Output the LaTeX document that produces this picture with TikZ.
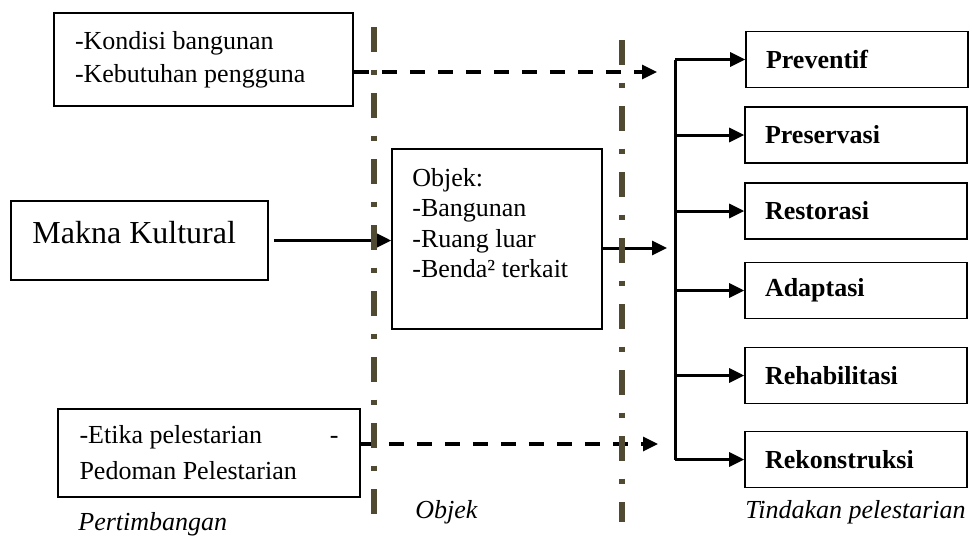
\documentclass[tikz,border=0pt]{standalone}
\usepackage{fontspec}
\setmainfont{Liberation Serif}
\usetikzlibrary{arrows.meta,calc}
\definecolor{axisolive}{RGB}{80,74,50}
\begin{document}
\begin{tikzpicture}[x=0.5pt,y=-0.5pt,
  box/.style={draw, line width=0.8pt, inner ysep=0pt, align=flush left},
  tbox/.style={box, minimum width=111pt, minimum height=28pt, inner xsep=10pt,
    text width=91pt, font=\fontsize{13}{16}\selectfont\bfseries},
  arr/.style={line width=1.5pt, -{Triangle[length=7.5pt,width=7pt]}},
  darr/.style={line width=1.6pt, dash pattern=on 7.5pt off 6.5pt, -{Triangle[length=7.5pt,width=7pt]}},
  axis/.style={draw=axisolive, line width=3pt, dash pattern=on 12.5pt off 8.75pt on 2.5pt off 9.25pt},
  lbl/.style={font=\fontsize{13}{16}\selectfont\itshape, inner sep=0pt}
]
\useasboundingbox (0,0) rectangle (972,536);

% left boxes
\node[box, minimum width=149.5pt, minimum height=46.5pt, inner xsep=10.5pt, text width=128.5pt,
  font=\fontsize{13}{16.5}\selectfont] (cond) at (203.5,59.5)
  {-Kondisi bangunan\\-Kebutuhan pengguna};
\node[box, minimum width=128.5pt, minimum height=39.5pt] (makna) at (139.5,240.5) {};
\node[anchor=base west, inner sep=0pt, font=\fontsize{16}{19}\selectfont] (maknatext) at (32,243) {Makna Kultural};
\node[box, minimum width=151pt, minimum height=44pt, inner xsep=10pt, text width=129.5pt,
  font=\fontsize{13}{18}\selectfont] (etika) at (209,453)
  {-Etika pelestarian\hfill-\\Pedoman Pelestarian};

% middle box
\node[box, minimum width=105pt, minimum height=90pt] (objek) at (497,239) {};
\node[anchor=west, align=flush left, inner sep=0pt, font=\fontsize{13}{15.2}\selectfont] (objektext) at (412,223)
  {Objek:\\-Bangunan\\-Ruang luar\\-Benda² terkait};

% right boxes
\node[tbox] (t1) at (857,59.5) {Preventif};
\node[tbox] (t2) at (856,135) {Preservasi};
\node[tbox] (t3) at (856,211) {Restorasi};
\node[tbox] (t4) at (856,290.5) {Adaptasi};
\node[tbox] (t5) at (856,375.5) {Rehabilitasi};
\node[tbox] (t6) at (856,459.5) {Rekonstruksi};

% connectors
\coordinate (topTip) at (657,72);
\coordinate (botTip) at (658,444);
\coordinate (midTip) at (667,248);
\coordinate (bar) at (675,59.5);

\draw[darr] (topTip -| cond.east) -- (topTip);
\draw[darr] (botTip -| etika.east) -- (botTip);
\draw[arr, shorten <=2.5pt] (makna.east) -- (makna.east -| objek.west);
\draw[arr] (midTip -| objek.east) -- (midTip);

\draw[line width=1.5pt] (bar |- t1.west) -- (bar |- t6.west);
\foreach \t in {t1,t2,t3,t4,t5,t6}
  \draw[arr] (bar |- \t.west) -- (\t.west);

% dash-dot separators
\coordinate (v1a) at (373.5,27);
\coordinate (v1b) at (373.5,522);
\coordinate (v2a) at (622,40);
\coordinate (v2b) at (622,522);
\draw[axis] (v1a) -- (v1b);
\draw[axis] (v2a) -- (v2b);

% labels
\node[lbl, anchor=base west] (lp) at (78,530) {Pertimbangan};
\node[lbl, anchor=base west] (lo) at (415,518) {Objek};
\node[lbl, anchor=base west] (lt) at (745,518) {Tindakan pelestarian};
\end{tikzpicture}
\end{document}
